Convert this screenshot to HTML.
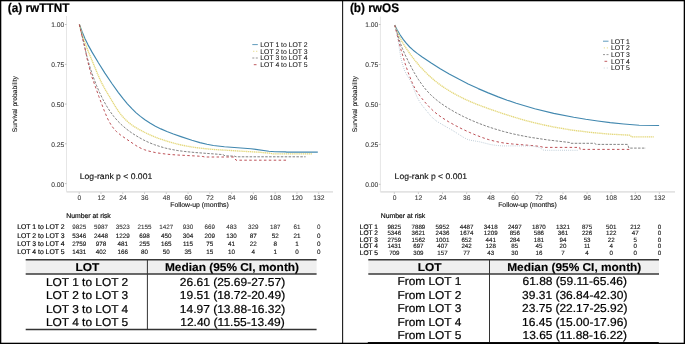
<!DOCTYPE html>
<html><head><meta charset="utf-8"><style>
html,body{margin:0;padding:0;background:#fff;}
svg{display:block;font-family:"Liberation Sans", sans-serif;will-change:transform;text-rendering:geometricPrecision;}
</style></head><body>
<svg width="685" height="344" viewBox="0 0 685 344">
<rect width="685" height="344" fill="#fff"/>
<text transform="translate(7.80,11.50) scale(1,1.06)" font-size="11.8" font-weight="bold" fill="#000" stroke="#000" stroke-width="0.2">(a) rwTTNT</text>
<line x1="66.5" y1="16" x2="66.5" y2="191.9" stroke="#e6e6e6" stroke-width="1"/>
<line x1="66.5" y1="191.9" x2="333" y2="191.9" stroke="#e3e3e3" stroke-width="1.6"/>
<line x1="64.9" y1="24.5" x2="66.5" y2="24.5" stroke="#999" stroke-width="0.6"/>
<text x="64.30" y="27.40" font-size="6.7" text-anchor="end" fill="#404040" stroke="#404040" stroke-width="0.1">1.00</text>
<line x1="64.9" y1="64.3" x2="66.5" y2="64.3" stroke="#999" stroke-width="0.6"/>
<text x="64.30" y="67.20" font-size="6.7" text-anchor="end" fill="#404040" stroke="#404040" stroke-width="0.1">0.75</text>
<line x1="64.9" y1="104.05" x2="66.5" y2="104.05" stroke="#999" stroke-width="0.6"/>
<text x="64.30" y="106.95" font-size="6.7" text-anchor="end" fill="#404040" stroke="#404040" stroke-width="0.1">0.50</text>
<line x1="64.9" y1="143.8" x2="66.5" y2="143.8" stroke="#999" stroke-width="0.6"/>
<text x="64.30" y="146.70" font-size="6.7" text-anchor="end" fill="#404040" stroke="#404040" stroke-width="0.1">0.25</text>
<line x1="64.9" y1="183.6" x2="66.5" y2="183.6" stroke="#999" stroke-width="0.6"/>
<text x="64.30" y="186.50" font-size="6.7" text-anchor="end" fill="#404040" stroke="#404040" stroke-width="0.1">0.00</text>
<line x1="79.20" y1="192.5" x2="79.20" y2="193.8" stroke="#999" stroke-width="0.6"/>
<text x="79.40" y="199.90" font-size="6.7" text-anchor="middle" fill="#404040" stroke="#404040" stroke-width="0.1">0</text>
<line x1="100.97" y1="192.5" x2="100.97" y2="193.8" stroke="#999" stroke-width="0.6"/>
<text x="101.17" y="199.90" font-size="6.7" text-anchor="middle" fill="#404040" stroke="#404040" stroke-width="0.1">12</text>
<line x1="122.75" y1="192.5" x2="122.75" y2="193.8" stroke="#999" stroke-width="0.6"/>
<text x="122.95" y="199.90" font-size="6.7" text-anchor="middle" fill="#404040" stroke="#404040" stroke-width="0.1">24</text>
<line x1="144.52" y1="192.5" x2="144.52" y2="193.8" stroke="#999" stroke-width="0.6"/>
<text x="144.72" y="199.90" font-size="6.7" text-anchor="middle" fill="#404040" stroke="#404040" stroke-width="0.1">36</text>
<line x1="166.29" y1="192.5" x2="166.29" y2="193.8" stroke="#999" stroke-width="0.6"/>
<text x="166.49" y="199.90" font-size="6.7" text-anchor="middle" fill="#404040" stroke="#404040" stroke-width="0.1">48</text>
<line x1="188.06" y1="192.5" x2="188.06" y2="193.8" stroke="#999" stroke-width="0.6"/>
<text x="188.26" y="199.90" font-size="6.7" text-anchor="middle" fill="#404040" stroke="#404040" stroke-width="0.1">60</text>
<line x1="209.84" y1="192.5" x2="209.84" y2="193.8" stroke="#999" stroke-width="0.6"/>
<text x="210.04" y="199.90" font-size="6.7" text-anchor="middle" fill="#404040" stroke="#404040" stroke-width="0.1">72</text>
<line x1="231.61" y1="192.5" x2="231.61" y2="193.8" stroke="#999" stroke-width="0.6"/>
<text x="231.81" y="199.90" font-size="6.7" text-anchor="middle" fill="#404040" stroke="#404040" stroke-width="0.1">84</text>
<line x1="253.38" y1="192.5" x2="253.38" y2="193.8" stroke="#999" stroke-width="0.6"/>
<text x="253.58" y="199.90" font-size="6.7" text-anchor="middle" fill="#404040" stroke="#404040" stroke-width="0.1">96</text>
<line x1="275.15" y1="192.5" x2="275.15" y2="193.8" stroke="#999" stroke-width="0.6"/>
<text x="275.35" y="199.90" font-size="6.7" text-anchor="middle" fill="#404040" stroke="#404040" stroke-width="0.1">108</text>
<line x1="296.93" y1="192.5" x2="296.93" y2="193.8" stroke="#999" stroke-width="0.6"/>
<text x="297.13" y="199.90" font-size="6.7" text-anchor="middle" fill="#404040" stroke="#404040" stroke-width="0.1">120</text>
<line x1="318.70" y1="192.5" x2="318.70" y2="193.8" stroke="#999" stroke-width="0.6"/>
<text x="318.90" y="199.90" font-size="6.7" text-anchor="middle" fill="#404040" stroke="#404040" stroke-width="0.1">132</text>
<text x="199.55" y="207.20" font-size="6.85" text-anchor="middle" fill="#111" stroke="#111" stroke-width="0.12">Follow-up (months)</text>
<text transform="translate(16.8,104.2) rotate(-90)" font-size="6.7" text-anchor="middle" fill="#111" stroke="#111" stroke-width="0.1">Survival probability</text>
<text transform="translate(79.80,179.30) scale(1,0.95)" font-size="8.6" fill="#111" stroke="#111" stroke-width="0.15">Log-rank p &lt; 0.001</text>
<polyline points="79.4,24.5 81.9,31.3 84.9,38.4 87.9,44.6 91.9,51.9 98.4,62.8 104.9,73.1 111.9,83.5 118.4,92.6 122.9,98.4 127.4,103.8 131.9,108.7 135.9,112.6 140.4,116.4 144.9,119.7 149.9,123.0 155.4,126.2 160.9,128.9 166.9,131.5 173.4,134.0 180.9,136.6 191.9,140.2 199.9,142.6 206.9,144.3 213.4,145.5 224.4,146.8 250.9,148.7 268.9,151.2 274.9,151.8 285.4,151.9 286.7,152.1 317.8,152.1" fill="none" stroke="#4288af" stroke-width="1.15" stroke-linejoin="round"/>
<polyline points="79.4,24.5 82.9,36.8 87.4,49.3 98.4,76.0 101.4,82.4 104.9,89.0 115.9,107.4 118.9,111.9 121.9,115.8 125.4,119.6 129.4,123.2 133.4,126.1 138.4,129.1 144.9,132.5 151.4,135.5 158.4,138.3 165.4,140.7 172.4,142.8 179.9,144.7 187.9,146.3 195.9,147.6 204.4,148.6 213.9,149.5 258.4,152.2 269.9,153.2 272.4,153.8 312.2,153.8" fill="none" stroke="#e4d87c" stroke-width="1.35" stroke-dasharray="1.3,0.6" stroke-linejoin="round"/>
<polyline points="79.4,24.5 86.9,56.4 90.4,68.7 92.9,76.1 96.4,85.2 99.4,92.2 102.9,99.4 106.4,105.7 109.9,111.2 113.9,116.6 117.9,121.2 122.4,125.6 126.9,129.4 132.4,133.4 138.4,137.1 143.4,139.9 148.9,142.5 154.4,144.7 159.9,146.5 165.4,148.1 171.4,149.4 177.9,150.6 184.9,151.5 194.9,152.5 222.9,154.6 225.0,155.8 234.9,156.2 236.0,156.8 305.6,156.8" fill="none" stroke="#7c7c7c" stroke-width="0.95" stroke-dasharray="2.5,1.4" stroke-linejoin="round"/>
<polyline points="79.4,24.5 80.9,31.6 84.4,45.4 87.4,60.1 91.4,75.5 98.9,96.6 104.4,111.1 107.4,118.2 109.4,122.1 111.4,125.4 113.9,128.8 116.4,131.5 120.9,135.3 135.4,145.2 138.4,147.0 141.4,148.5 144.4,149.7 147.9,150.9 156.4,152.8 166.9,154.2 175.4,154.9 197.9,156.1 202.9,156.5 204.7,157.0 233.7,157.0 236.0,160.2 288.2,160.2" fill="none" stroke="#b9484e" stroke-width="0.95" stroke-dasharray="2.5,2.4" stroke-linejoin="round"/>
<line x1="252.3" y1="44.6" x2="257.8" y2="44.6" stroke="#4288af" stroke-width="0.85"/>
<text x="260.30" y="46.90" font-size="6.85" fill="#111" stroke="#111" stroke-width="0.06">LOT 1 to LOT 2</text>
<line x1="253.10000000000002" y1="51.300000000000004" x2="257.8" y2="51.300000000000004" stroke="#e4d87c" stroke-width="0.9" stroke-dasharray="1.2,1.8"/>
<text x="260.30" y="53.60" font-size="6.85" fill="#111" stroke="#111" stroke-width="0.06">LOT 2 to LOT 3</text>
<line x1="252.3" y1="58.0" x2="257.8" y2="58.0" stroke="#7c7c7c" stroke-width="0.8" stroke-dasharray="2,1.5"/>
<text x="260.30" y="60.30" font-size="6.85" fill="#111" stroke="#111" stroke-width="0.06">LOT 3 to LOT 4</text>
<line x1="253.8" y1="64.7" x2="256.5" y2="64.7" stroke="#b9484e" stroke-width="0.9"/>
<text x="260.30" y="67.00" font-size="6.85" fill="#111" stroke="#111" stroke-width="0.06">LOT 4 to LOT 5</text>
<text x="66.30" y="217.80" font-size="6.85" fill="#000" stroke="#000" stroke-width="0.15">Number at risk</text>
<text x="17.20" y="229.30" font-size="6.85" fill="#000" stroke="#000" stroke-width="0.15">LOT 1 to LOT 2</text>
<text x="79.20" y="229.30" font-size="6.3" text-anchor="middle" fill="#2a2a2a" stroke="#2a2a2a" stroke-width="0.05">9825</text>
<text x="100.97" y="229.30" font-size="6.3" text-anchor="middle" fill="#2a2a2a" stroke="#2a2a2a" stroke-width="0.05">5987</text>
<text x="122.75" y="229.30" font-size="6.3" text-anchor="middle" fill="#2a2a2a" stroke="#2a2a2a" stroke-width="0.05">3523</text>
<text x="144.52" y="229.30" font-size="6.3" text-anchor="middle" fill="#2a2a2a" stroke="#2a2a2a" stroke-width="0.05">2155</text>
<text x="166.29" y="229.30" font-size="6.3" text-anchor="middle" fill="#2a2a2a" stroke="#2a2a2a" stroke-width="0.05">1427</text>
<text x="188.06" y="229.30" font-size="6.3" text-anchor="middle" fill="#2a2a2a" stroke="#2a2a2a" stroke-width="0.05">930</text>
<text x="209.84" y="229.30" font-size="6.3" text-anchor="middle" fill="#2a2a2a" stroke="#2a2a2a" stroke-width="0.05">669</text>
<text x="231.61" y="229.30" font-size="6.3" text-anchor="middle" fill="#2a2a2a" stroke="#2a2a2a" stroke-width="0.05">483</text>
<text x="253.38" y="229.30" font-size="6.3" text-anchor="middle" fill="#2a2a2a" stroke="#2a2a2a" stroke-width="0.05">329</text>
<text x="275.15" y="229.30" font-size="6.3" text-anchor="middle" fill="#2a2a2a" stroke="#2a2a2a" stroke-width="0.05">187</text>
<text x="296.93" y="229.30" font-size="6.3" text-anchor="middle" fill="#2a2a2a" stroke="#2a2a2a" stroke-width="0.05">61</text>
<text x="318.70" y="229.30" font-size="6.3" text-anchor="middle" fill="#2a2a2a" stroke="#2a2a2a" stroke-width="0.05">0</text>
<text x="17.20" y="237.90" font-size="6.85" fill="#000" stroke="#000" stroke-width="0.15">LOT 2 to LOT 3</text>
<text x="79.20" y="237.90" font-size="6.3" text-anchor="middle" fill="#111" stroke="#111" stroke-width="0.12">5346</text>
<text x="100.97" y="237.90" font-size="6.3" text-anchor="middle" fill="#111" stroke="#111" stroke-width="0.12">2448</text>
<text x="122.75" y="237.90" font-size="6.3" text-anchor="middle" fill="#111" stroke="#111" stroke-width="0.12">1229</text>
<text x="144.52" y="237.90" font-size="6.3" text-anchor="middle" fill="#111" stroke="#111" stroke-width="0.12">698</text>
<text x="166.29" y="237.90" font-size="6.3" text-anchor="middle" fill="#111" stroke="#111" stroke-width="0.12">450</text>
<text x="188.06" y="237.90" font-size="6.3" text-anchor="middle" fill="#111" stroke="#111" stroke-width="0.12">304</text>
<text x="209.84" y="237.90" font-size="6.3" text-anchor="middle" fill="#111" stroke="#111" stroke-width="0.12">209</text>
<text x="231.61" y="237.90" font-size="6.3" text-anchor="middle" fill="#111" stroke="#111" stroke-width="0.12">130</text>
<text x="253.38" y="237.90" font-size="6.3" text-anchor="middle" fill="#111" stroke="#111" stroke-width="0.12">87</text>
<text x="275.15" y="237.90" font-size="6.3" text-anchor="middle" fill="#111" stroke="#111" stroke-width="0.12">52</text>
<text x="296.93" y="237.90" font-size="6.3" text-anchor="middle" fill="#111" stroke="#111" stroke-width="0.12">21</text>
<text x="318.70" y="237.90" font-size="6.3" text-anchor="middle" fill="#111" stroke="#111" stroke-width="0.12">0</text>
<text x="17.20" y="246.00" font-size="6.85" fill="#000" stroke="#000" stroke-width="0.15">LOT 3 to LOT 4</text>
<text x="79.20" y="246.00" font-size="6.3" text-anchor="middle" fill="#111" stroke="#111" stroke-width="0.12">2759</text>
<text x="100.97" y="246.00" font-size="6.3" text-anchor="middle" fill="#111" stroke="#111" stroke-width="0.12">978</text>
<text x="122.75" y="246.00" font-size="6.3" text-anchor="middle" fill="#111" stroke="#111" stroke-width="0.12">481</text>
<text x="144.52" y="246.00" font-size="6.3" text-anchor="middle" fill="#111" stroke="#111" stroke-width="0.12">255</text>
<text x="166.29" y="246.00" font-size="6.3" text-anchor="middle" fill="#111" stroke="#111" stroke-width="0.12">165</text>
<text x="188.06" y="246.00" font-size="6.3" text-anchor="middle" fill="#111" stroke="#111" stroke-width="0.12">115</text>
<text x="209.84" y="246.00" font-size="6.3" text-anchor="middle" fill="#111" stroke="#111" stroke-width="0.12">75</text>
<text x="231.61" y="246.00" font-size="6.3" text-anchor="middle" fill="#111" stroke="#111" stroke-width="0.12">41</text>
<text x="253.38" y="246.00" font-size="6.3" text-anchor="middle" fill="#111" stroke="#111" stroke-width="0.12">22</text>
<text x="275.15" y="246.00" font-size="6.3" text-anchor="middle" fill="#111" stroke="#111" stroke-width="0.12">8</text>
<text x="296.93" y="246.00" font-size="6.3" text-anchor="middle" fill="#111" stroke="#111" stroke-width="0.12">1</text>
<text x="318.70" y="246.00" font-size="6.3" text-anchor="middle" fill="#111" stroke="#111" stroke-width="0.12">0</text>
<text x="17.20" y="254.00" font-size="6.85" fill="#000" stroke="#000" stroke-width="0.15">LOT 4 to LOT 5</text>
<text x="79.20" y="254.00" font-size="6.3" text-anchor="middle" fill="#111" stroke="#111" stroke-width="0.12">1431</text>
<text x="100.97" y="254.00" font-size="6.3" text-anchor="middle" fill="#111" stroke="#111" stroke-width="0.12">402</text>
<text x="122.75" y="254.00" font-size="6.3" text-anchor="middle" fill="#111" stroke="#111" stroke-width="0.12">166</text>
<text x="144.52" y="254.00" font-size="6.3" text-anchor="middle" fill="#111" stroke="#111" stroke-width="0.12">80</text>
<text x="166.29" y="254.00" font-size="6.3" text-anchor="middle" fill="#111" stroke="#111" stroke-width="0.12">50</text>
<text x="188.06" y="254.00" font-size="6.3" text-anchor="middle" fill="#111" stroke="#111" stroke-width="0.12">35</text>
<text x="209.84" y="254.00" font-size="6.3" text-anchor="middle" fill="#111" stroke="#111" stroke-width="0.12">15</text>
<text x="231.61" y="254.00" font-size="6.3" text-anchor="middle" fill="#111" stroke="#111" stroke-width="0.12">10</text>
<text x="253.38" y="254.00" font-size="6.3" text-anchor="middle" fill="#111" stroke="#111" stroke-width="0.12">4</text>
<text x="275.15" y="254.00" font-size="6.3" text-anchor="middle" fill="#111" stroke="#111" stroke-width="0.12">1</text>
<text x="296.93" y="254.00" font-size="6.3" text-anchor="middle" fill="#111" stroke="#111" stroke-width="0.12">0</text>
<text x="318.70" y="254.00" font-size="6.3" text-anchor="middle" fill="#111" stroke="#111" stroke-width="0.12">0</text>
<text transform="translate(349.90,11.50) scale(1,1.06)" font-size="11.8" font-weight="bold" fill="#000" stroke="#000" stroke-width="0.2">(b) rwOS</text>
<line x1="380.4" y1="16.5" x2="380.4" y2="191.9" stroke="#e6e6e6" stroke-width="1"/>
<line x1="380.4" y1="191.9" x2="675" y2="191.9" stroke="#e3e3e3" stroke-width="1.6"/>
<line x1="378.79999999999995" y1="24.5" x2="380.4" y2="24.5" stroke="#999" stroke-width="0.6"/>
<text x="378.20" y="27.40" font-size="6.7" text-anchor="end" fill="#404040" stroke="#404040" stroke-width="0.1">1.00</text>
<line x1="378.79999999999995" y1="64.5" x2="380.4" y2="64.5" stroke="#999" stroke-width="0.6"/>
<text x="378.20" y="67.40" font-size="6.7" text-anchor="end" fill="#404040" stroke="#404040" stroke-width="0.1">0.75</text>
<line x1="378.79999999999995" y1="104.4" x2="380.4" y2="104.4" stroke="#999" stroke-width="0.6"/>
<text x="378.20" y="107.30" font-size="6.7" text-anchor="end" fill="#404040" stroke="#404040" stroke-width="0.1">0.50</text>
<line x1="378.79999999999995" y1="144.4" x2="380.4" y2="144.4" stroke="#999" stroke-width="0.6"/>
<text x="378.20" y="147.30" font-size="6.7" text-anchor="end" fill="#404040" stroke="#404040" stroke-width="0.1">0.25</text>
<line x1="378.79999999999995" y1="184.3" x2="380.4" y2="184.3" stroke="#999" stroke-width="0.6"/>
<text x="378.20" y="187.20" font-size="6.7" text-anchor="end" fill="#404040" stroke="#404040" stroke-width="0.1">0.00</text>
<line x1="394.30" y1="192.5" x2="394.30" y2="193.8" stroke="#999" stroke-width="0.6"/>
<text x="394.50" y="199.90" font-size="6.7" text-anchor="middle" fill="#404040" stroke="#404040" stroke-width="0.1">0</text>
<line x1="418.40" y1="192.5" x2="418.40" y2="193.8" stroke="#999" stroke-width="0.6"/>
<text x="418.60" y="199.90" font-size="6.7" text-anchor="middle" fill="#404040" stroke="#404040" stroke-width="0.1">12</text>
<line x1="442.50" y1="192.5" x2="442.50" y2="193.8" stroke="#999" stroke-width="0.6"/>
<text x="442.70" y="199.90" font-size="6.7" text-anchor="middle" fill="#404040" stroke="#404040" stroke-width="0.1">24</text>
<line x1="466.60" y1="192.5" x2="466.60" y2="193.8" stroke="#999" stroke-width="0.6"/>
<text x="466.80" y="199.90" font-size="6.7" text-anchor="middle" fill="#404040" stroke="#404040" stroke-width="0.1">36</text>
<line x1="490.70" y1="192.5" x2="490.70" y2="193.8" stroke="#999" stroke-width="0.6"/>
<text x="490.90" y="199.90" font-size="6.7" text-anchor="middle" fill="#404040" stroke="#404040" stroke-width="0.1">48</text>
<line x1="514.80" y1="192.5" x2="514.80" y2="193.8" stroke="#999" stroke-width="0.6"/>
<text x="515.00" y="199.90" font-size="6.7" text-anchor="middle" fill="#404040" stroke="#404040" stroke-width="0.1">60</text>
<line x1="538.90" y1="192.5" x2="538.90" y2="193.8" stroke="#999" stroke-width="0.6"/>
<text x="539.10" y="199.90" font-size="6.7" text-anchor="middle" fill="#404040" stroke="#404040" stroke-width="0.1">72</text>
<line x1="563.00" y1="192.5" x2="563.00" y2="193.8" stroke="#999" stroke-width="0.6"/>
<text x="563.20" y="199.90" font-size="6.7" text-anchor="middle" fill="#404040" stroke="#404040" stroke-width="0.1">84</text>
<line x1="587.10" y1="192.5" x2="587.10" y2="193.8" stroke="#999" stroke-width="0.6"/>
<text x="587.30" y="199.90" font-size="6.7" text-anchor="middle" fill="#404040" stroke="#404040" stroke-width="0.1">96</text>
<line x1="611.20" y1="192.5" x2="611.20" y2="193.8" stroke="#999" stroke-width="0.6"/>
<text x="611.40" y="199.90" font-size="6.7" text-anchor="middle" fill="#404040" stroke="#404040" stroke-width="0.1">108</text>
<line x1="635.30" y1="192.5" x2="635.30" y2="193.8" stroke="#999" stroke-width="0.6"/>
<text x="635.50" y="199.90" font-size="6.7" text-anchor="middle" fill="#404040" stroke="#404040" stroke-width="0.1">120</text>
<line x1="659.40" y1="192.5" x2="659.40" y2="193.8" stroke="#999" stroke-width="0.6"/>
<text x="659.60" y="199.90" font-size="6.7" text-anchor="middle" fill="#404040" stroke="#404040" stroke-width="0.1">132</text>
<text x="527.45" y="207.20" font-size="6.85" text-anchor="middle" fill="#111" stroke="#111" stroke-width="0.12">Follow-up (months)</text>
<text transform="translate(357.2,104.2) rotate(-90)" font-size="6.7" text-anchor="middle" fill="#111" stroke="#111" stroke-width="0.1">Survival probability</text>
<text transform="translate(394.60,179.30) scale(1,0.95)" font-size="8.6" fill="#111" stroke="#111" stroke-width="0.15">Log-rank p &lt; 0.001</text>
<polyline points="394.7,25.1 397.2,30.0 400.2,35.0 403.2,39.4 406.2,43.2 409.7,47.0 413.2,50.2 417.2,53.4 422.2,57.0 431.2,63.0 440.2,68.7 449.2,73.9 458.7,79.1 468.2,83.9 478.2,88.6 488.2,92.9 498.2,96.9 507.2,100.2 516.2,103.2 534.7,108.7 553.7,113.4 573.7,117.3 585.7,119.3 597.7,121.0 610.2,122.6 623.7,124.0 639.2,125.3 659.1,125.5" fill="none" stroke="#4288af" stroke-width="1.15" stroke-linejoin="round"/>
<polyline points="394.7,25.1 397.2,31.7 399.7,37.3 402.2,42.0 405.2,46.8 409.7,53.4 414.7,60.1 419.7,66.1 425.2,71.9 429.7,76.3 434.7,80.6 439.7,84.5 445.2,88.3 451.2,92.0 457.2,95.3 463.7,98.6 470.7,101.8 479.2,105.2 489.2,108.9 501.7,113.2 513.7,117.0 523.7,120.0 533.7,122.6 543.7,124.9 553.7,127.0 571.2,130.0 589.7,132.3 609.2,134.1 630.2,135.2 631.5,136.9 653.8,136.9" fill="none" stroke="#e4d87c" stroke-width="1.35" stroke-dasharray="1.3,0.6" stroke-linejoin="round"/>
<polyline points="394.7,25.1 400.2,42.7 402.2,48.1 404.7,53.9 409.7,64.2 414.2,72.6 418.2,79.2 422.7,85.6 426.2,90.0 430.2,94.3 434.2,98.0 438.7,101.7 444.2,105.6 450.2,109.4 456.7,113.1 463.7,116.7 471.2,120.2 478.7,123.3 486.7,126.3 494.7,128.9 503.2,131.4 511.7,133.6 520.7,135.5 530.2,137.3 548.2,140.0 569.7,142.5 570.9,143.3 594.7,143.3 596.0,144.4 627.6,144.4 628.9,148.1 646.0,148.1" fill="none" stroke="#7c7c7c" stroke-width="0.95" stroke-dasharray="2.5,1.4" stroke-linejoin="round"/>
<polyline points="394.7,25.1 400.7,48.8 405.2,63.8 408.2,72.6 411.2,80.4 413.7,86.0 416.2,90.6 419.7,95.7 424.7,101.9 429.2,106.9 433.7,111.3 438.2,114.9 442.7,118.1 448.7,121.8 455.7,125.7 462.2,129.0 469.2,132.3 475.7,135.0 482.2,137.5 488.2,139.5 494.2,141.1 499.7,142.3 505.2,143.2 512.7,144.0 533.7,145.7 540.2,146.5 543.8,147.4 579.7,147.4 580.1,149.4 630.2,149.4" fill="none" stroke="#b9484e" stroke-width="0.95" stroke-dasharray="2.5,2.4" stroke-linejoin="round"/>
<polyline points="394.7,25.1 395.7,27.4 396.7,31.6 399.7,51.0 401.2,59.1 402.7,65.1 404.7,70.8 406.2,73.8 410.7,81.3 412.2,84.7 416.7,96.2 419.7,101.9 422.7,106.1 430.2,115.3 433.7,118.9 437.2,121.6 453.2,130.8 463.7,137.5 467.2,139.3 470.7,140.3 479.2,141.7 490.7,144.6 496.2,145.4 502.2,145.9 529.7,145.9 532.7,146.2 539.2,147.3 543.8,150.3 578.8,150.3" fill="none" stroke="#a9bccb" stroke-width="1.0" stroke-dasharray="0.7,1.4" stroke-linejoin="round"/>
<line x1="603" y1="41.2" x2="608.5" y2="41.2" stroke="#4288af" stroke-width="0.85"/>
<text x="611.00" y="43.50" font-size="6.85" fill="#111" stroke="#111" stroke-width="0.06">LOT 1</text>
<line x1="603.8" y1="47.900000000000006" x2="608.5" y2="47.900000000000006" stroke="#e4d87c" stroke-width="0.9" stroke-dasharray="1.2,1.8"/>
<text x="611.00" y="50.20" font-size="6.85" fill="#111" stroke="#111" stroke-width="0.06">LOT 2</text>
<line x1="603" y1="54.6" x2="608.5" y2="54.6" stroke="#7c7c7c" stroke-width="0.8" stroke-dasharray="2,1.5"/>
<text x="611.00" y="56.90" font-size="6.85" fill="#111" stroke="#111" stroke-width="0.06">LOT 3</text>
<line x1="604.5" y1="61.300000000000004" x2="607.2" y2="61.300000000000004" stroke="#b9484e" stroke-width="0.9"/>
<text x="611.00" y="63.60" font-size="6.85" fill="#111" stroke="#111" stroke-width="0.06">LOT 4</text>
<line x1="603.8" y1="68.0" x2="608.5" y2="68.0" stroke="#a9bccb" stroke-width="0.8" stroke-dasharray="0.8,2.2"/>
<text x="611.00" y="70.30" font-size="6.85" fill="#111" stroke="#111" stroke-width="0.06">LOT 5</text>
<text x="380.80" y="217.80" font-size="6.85" fill="#000" stroke="#000" stroke-width="0.15">Number at risk</text>
<text x="359.80" y="228.80" font-size="6.6" fill="#000" stroke="#000" stroke-width="0.15">LOT 1</text>
<text x="394.30" y="228.80" font-size="6.2" text-anchor="middle" fill="#111" stroke="#111" stroke-width="0.12">9825</text>
<text x="418.40" y="228.80" font-size="6.2" text-anchor="middle" fill="#111" stroke="#111" stroke-width="0.12">7889</text>
<text x="442.50" y="228.80" font-size="6.2" text-anchor="middle" fill="#111" stroke="#111" stroke-width="0.12">5952</text>
<text x="466.60" y="228.80" font-size="6.2" text-anchor="middle" fill="#111" stroke="#111" stroke-width="0.12">4487</text>
<text x="490.70" y="228.80" font-size="6.2" text-anchor="middle" fill="#111" stroke="#111" stroke-width="0.12">3418</text>
<text x="514.80" y="228.80" font-size="6.2" text-anchor="middle" fill="#111" stroke="#111" stroke-width="0.12">2497</text>
<text x="538.90" y="228.80" font-size="6.2" text-anchor="middle" fill="#111" stroke="#111" stroke-width="0.12">1870</text>
<text x="563.00" y="228.80" font-size="6.2" text-anchor="middle" fill="#111" stroke="#111" stroke-width="0.12">1321</text>
<text x="587.10" y="228.80" font-size="6.2" text-anchor="middle" fill="#111" stroke="#111" stroke-width="0.12">875</text>
<text x="611.20" y="228.80" font-size="6.2" text-anchor="middle" fill="#111" stroke="#111" stroke-width="0.12">501</text>
<text x="635.30" y="228.80" font-size="6.2" text-anchor="middle" fill="#111" stroke="#111" stroke-width="0.12">212</text>
<text x="659.40" y="228.80" font-size="6.2" text-anchor="middle" fill="#111" stroke="#111" stroke-width="0.12">0</text>
<text x="359.80" y="235.10" font-size="6.6" fill="#000" stroke="#000" stroke-width="0.15">LOT 2</text>
<text x="394.30" y="235.10" font-size="6.2" text-anchor="middle" fill="#111" stroke="#111" stroke-width="0.12">5346</text>
<text x="418.40" y="235.10" font-size="6.2" text-anchor="middle" fill="#111" stroke="#111" stroke-width="0.12">3621</text>
<text x="442.50" y="235.10" font-size="6.2" text-anchor="middle" fill="#111" stroke="#111" stroke-width="0.12">2436</text>
<text x="466.60" y="235.10" font-size="6.2" text-anchor="middle" fill="#111" stroke="#111" stroke-width="0.12">1674</text>
<text x="490.70" y="235.10" font-size="6.2" text-anchor="middle" fill="#111" stroke="#111" stroke-width="0.12">1209</text>
<text x="514.80" y="235.10" font-size="6.2" text-anchor="middle" fill="#111" stroke="#111" stroke-width="0.12">856</text>
<text x="538.90" y="235.10" font-size="6.2" text-anchor="middle" fill="#111" stroke="#111" stroke-width="0.12">586</text>
<text x="563.00" y="235.10" font-size="6.2" text-anchor="middle" fill="#111" stroke="#111" stroke-width="0.12">361</text>
<text x="587.10" y="235.10" font-size="6.2" text-anchor="middle" fill="#111" stroke="#111" stroke-width="0.12">226</text>
<text x="611.20" y="235.10" font-size="6.2" text-anchor="middle" fill="#111" stroke="#111" stroke-width="0.12">122</text>
<text x="635.30" y="235.10" font-size="6.2" text-anchor="middle" fill="#111" stroke="#111" stroke-width="0.12">47</text>
<text x="659.40" y="235.10" font-size="6.2" text-anchor="middle" fill="#111" stroke="#111" stroke-width="0.12">0</text>
<text x="359.80" y="242.00" font-size="6.6" fill="#000" stroke="#000" stroke-width="0.15">LOT 3</text>
<text x="394.30" y="242.00" font-size="6.2" text-anchor="middle" fill="#111" stroke="#111" stroke-width="0.12">2759</text>
<text x="418.40" y="242.00" font-size="6.2" text-anchor="middle" fill="#111" stroke="#111" stroke-width="0.12">1562</text>
<text x="442.50" y="242.00" font-size="6.2" text-anchor="middle" fill="#111" stroke="#111" stroke-width="0.12">1001</text>
<text x="466.60" y="242.00" font-size="6.2" text-anchor="middle" fill="#111" stroke="#111" stroke-width="0.12">652</text>
<text x="490.70" y="242.00" font-size="6.2" text-anchor="middle" fill="#111" stroke="#111" stroke-width="0.12">441</text>
<text x="514.80" y="242.00" font-size="6.2" text-anchor="middle" fill="#111" stroke="#111" stroke-width="0.12">284</text>
<text x="538.90" y="242.00" font-size="6.2" text-anchor="middle" fill="#111" stroke="#111" stroke-width="0.12">181</text>
<text x="563.00" y="242.00" font-size="6.2" text-anchor="middle" fill="#111" stroke="#111" stroke-width="0.12">94</text>
<text x="587.10" y="242.00" font-size="6.2" text-anchor="middle" fill="#111" stroke="#111" stroke-width="0.12">53</text>
<text x="611.20" y="242.00" font-size="6.2" text-anchor="middle" fill="#111" stroke="#111" stroke-width="0.12">22</text>
<text x="635.30" y="242.00" font-size="6.2" text-anchor="middle" fill="#111" stroke="#111" stroke-width="0.12">5</text>
<text x="659.40" y="242.00" font-size="6.2" text-anchor="middle" fill="#111" stroke="#111" stroke-width="0.12">0</text>
<text x="359.80" y="248.20" font-size="6.6" fill="#000" stroke="#000" stroke-width="0.15">LOT 4</text>
<text x="394.30" y="248.20" font-size="6.2" text-anchor="middle" fill="#111" stroke="#111" stroke-width="0.12">1431</text>
<text x="418.40" y="248.20" font-size="6.2" text-anchor="middle" fill="#111" stroke="#111" stroke-width="0.12">697</text>
<text x="442.50" y="248.20" font-size="6.2" text-anchor="middle" fill="#111" stroke="#111" stroke-width="0.12">407</text>
<text x="466.60" y="248.20" font-size="6.2" text-anchor="middle" fill="#111" stroke="#111" stroke-width="0.12">242</text>
<text x="490.70" y="248.20" font-size="6.2" text-anchor="middle" fill="#111" stroke="#111" stroke-width="0.12">128</text>
<text x="514.80" y="248.20" font-size="6.2" text-anchor="middle" fill="#111" stroke="#111" stroke-width="0.12">85</text>
<text x="538.90" y="248.20" font-size="6.2" text-anchor="middle" fill="#111" stroke="#111" stroke-width="0.12">45</text>
<text x="563.00" y="248.20" font-size="6.2" text-anchor="middle" fill="#111" stroke="#111" stroke-width="0.12">20</text>
<text x="587.10" y="248.20" font-size="6.2" text-anchor="middle" fill="#111" stroke="#111" stroke-width="0.12">11</text>
<text x="611.20" y="248.20" font-size="6.2" text-anchor="middle" fill="#111" stroke="#111" stroke-width="0.12">4</text>
<text x="635.30" y="248.20" font-size="6.2" text-anchor="middle" fill="#111" stroke="#111" stroke-width="0.12">0</text>
<text x="659.40" y="248.20" font-size="6.2" text-anchor="middle" fill="#111" stroke="#111" stroke-width="0.12">0</text>
<text x="359.80" y="254.60" font-size="6.6" fill="#000" stroke="#000" stroke-width="0.15">LOT 5</text>
<text x="394.30" y="254.60" font-size="6.2" text-anchor="middle" fill="#111" stroke="#111" stroke-width="0.12">709</text>
<text x="418.40" y="254.60" font-size="6.2" text-anchor="middle" fill="#111" stroke="#111" stroke-width="0.12">309</text>
<text x="442.50" y="254.60" font-size="6.2" text-anchor="middle" fill="#111" stroke="#111" stroke-width="0.12">157</text>
<text x="466.60" y="254.60" font-size="6.2" text-anchor="middle" fill="#111" stroke="#111" stroke-width="0.12">77</text>
<text x="490.70" y="254.60" font-size="6.2" text-anchor="middle" fill="#111" stroke="#111" stroke-width="0.12">43</text>
<text x="514.80" y="254.60" font-size="6.2" text-anchor="middle" fill="#111" stroke="#111" stroke-width="0.12">30</text>
<text x="538.90" y="254.60" font-size="6.2" text-anchor="middle" fill="#111" stroke="#111" stroke-width="0.12">16</text>
<text x="563.00" y="254.60" font-size="6.2" text-anchor="middle" fill="#111" stroke="#111" stroke-width="0.12">7</text>
<text x="587.10" y="254.60" font-size="6.2" text-anchor="middle" fill="#111" stroke="#111" stroke-width="0.12">4</text>
<text x="611.20" y="254.60" font-size="6.2" text-anchor="middle" fill="#111" stroke="#111" stroke-width="0.12">0</text>
<text x="635.30" y="254.60" font-size="6.2" text-anchor="middle" fill="#111" stroke="#111" stroke-width="0.12">0</text>
<text x="659.40" y="254.60" font-size="6.2" text-anchor="middle" fill="#111" stroke="#111" stroke-width="0.12">0</text>
<rect x="25.7" y="259.7" width="290.90000000000003" height="14.300000000000011" fill="#efefef"/>
<line x1="25.7" y1="259.7" x2="316.6" y2="259.7" stroke="#383838" stroke-width="1.45"/>
<line x1="25.7" y1="274.0" x2="316.6" y2="274.0" stroke="#383838" stroke-width="1.6"/>
<line x1="25.7" y1="329.5" x2="316.6" y2="329.5" stroke="#333" stroke-width="1.3"/>
<line x1="147.4" y1="259.7" x2="147.4" y2="329.5" stroke="#333" stroke-width="1"/>
<text transform="translate(87.35,270.70) scale(1,0.96)" font-size="11.9" text-anchor="middle" font-weight="bold" fill="#000" stroke="#000" stroke-width="0.15">LOT</text>
<text transform="translate(232.00,270.70) scale(1,0.96)" font-size="11.9" text-anchor="middle" font-weight="bold" fill="#000" stroke="#000" stroke-width="0.15">Median (95% CI, month)</text>
<text transform="translate(87.05,285.60) scale(1,0.96)" font-size="11.9" text-anchor="middle" fill="#000" stroke="#000" stroke-width="0.22">LOT 1 to LOT 2</text>
<text transform="translate(232.50,285.60) scale(1,0.96)" font-size="12.0" text-anchor="middle" fill="#000" stroke="#000" stroke-width="0.22">26.61 (25.69-27.57)</text>
<text transform="translate(87.05,299.20) scale(1,0.96)" font-size="11.9" text-anchor="middle" fill="#000" stroke="#000" stroke-width="0.22">LOT 2 to LOT 3</text>
<text transform="translate(232.50,299.20) scale(1,0.96)" font-size="12.0" text-anchor="middle" fill="#000" stroke="#000" stroke-width="0.22">19.51 (18.72-20.49)</text>
<text transform="translate(87.05,312.80) scale(1,0.96)" font-size="11.9" text-anchor="middle" fill="#000" stroke="#000" stroke-width="0.22">LOT 3 to LOT 4</text>
<text transform="translate(232.50,312.80) scale(1,0.96)" font-size="12.0" text-anchor="middle" fill="#000" stroke="#000" stroke-width="0.22">14.97 (13.88-16.32)</text>
<text transform="translate(87.05,326.40) scale(1,0.96)" font-size="11.9" text-anchor="middle" fill="#000" stroke="#000" stroke-width="0.22">LOT 4 to LOT 5</text>
<text transform="translate(232.50,326.40) scale(1,0.96)" font-size="12.0" text-anchor="middle" fill="#000" stroke="#000" stroke-width="0.22">12.40 (11.55-13.49)</text>
<rect x="368.3" y="259.7" width="290.7" height="14.300000000000011" fill="#efefef"/>
<line x1="368.3" y1="259.7" x2="659" y2="259.7" stroke="#383838" stroke-width="1.45"/>
<line x1="368.3" y1="274.0" x2="659" y2="274.0" stroke="#383838" stroke-width="1.6"/>
<line x1="489.5" y1="259.7" x2="489.5" y2="344" stroke="#333" stroke-width="1"/>
<text transform="translate(429.70,270.70) scale(1,0.96)" font-size="11.9" text-anchor="middle" font-weight="bold" fill="#000" stroke="#000" stroke-width="0.15">LOT</text>
<text transform="translate(574.25,270.70) scale(1,0.96)" font-size="11.9" text-anchor="middle" font-weight="bold" fill="#000" stroke="#000" stroke-width="0.15">Median (95% CI, month)</text>
<text transform="translate(429.40,285.30) scale(1,0.96)" font-size="11.9" text-anchor="middle" fill="#000" stroke="#000" stroke-width="0.22">From LOT 1</text>
<text transform="translate(574.75,285.30) scale(1,0.96)" font-size="12.0" text-anchor="middle" fill="#000" stroke="#000" stroke-width="0.22">61.88 (59.11-65.46)</text>
<text transform="translate(429.40,298.80) scale(1,0.96)" font-size="11.9" text-anchor="middle" fill="#000" stroke="#000" stroke-width="0.22">From LOT 2</text>
<text transform="translate(574.75,298.80) scale(1,0.96)" font-size="12.0" text-anchor="middle" fill="#000" stroke="#000" stroke-width="0.22">39.31 (36.84-42.30)</text>
<text transform="translate(429.40,312.30) scale(1,0.96)" font-size="11.9" text-anchor="middle" fill="#000" stroke="#000" stroke-width="0.22">From LOT 3</text>
<text transform="translate(574.75,312.30) scale(1,0.96)" font-size="12.0" text-anchor="middle" fill="#000" stroke="#000" stroke-width="0.22">23.75 (22.17-25.92)</text>
<text transform="translate(429.40,325.80) scale(1,0.96)" font-size="11.9" text-anchor="middle" fill="#000" stroke="#000" stroke-width="0.22">From LOT 4</text>
<text transform="translate(574.75,325.80) scale(1,0.96)" font-size="12.0" text-anchor="middle" fill="#000" stroke="#000" stroke-width="0.22">16.45 (15.00-17.96)</text>
<text transform="translate(429.40,339.30) scale(1,0.96)" font-size="11.9" text-anchor="middle" fill="#000" stroke="#000" stroke-width="0.22">From LOT 5</text>
<text transform="translate(574.75,339.30) scale(1,0.96)" font-size="12.0" text-anchor="middle" fill="#000" stroke="#000" stroke-width="0.22">13.65 (11.88-16.22)</text>

<line x1="342.6" y1="0" x2="342.6" y2="344" stroke="#1a1a1a" stroke-width="1.1"/>
<line x1="367.8" y1="342.6" x2="658.8" y2="342.6" stroke="#111" stroke-width="1.3"/>
<rect x="0.65" y="0.65" width="683.7" height="342.7" fill="none" stroke="#000" stroke-width="1.3"/>
</svg>
</body></html>
